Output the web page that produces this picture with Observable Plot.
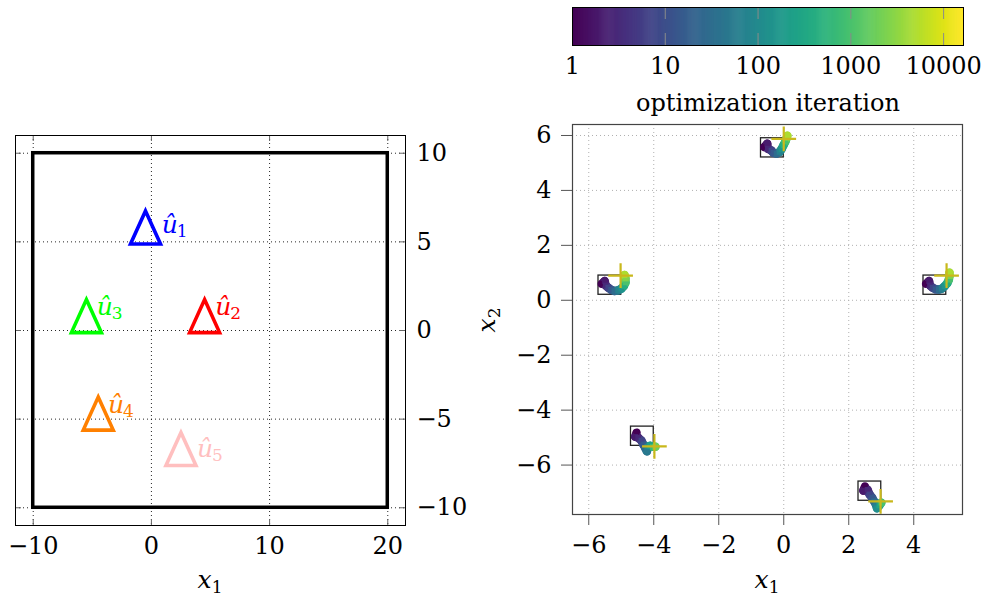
<!DOCTYPE html>
<html><head><meta charset="utf-8">
<script src="https://cdn.jsdelivr.net/npm/d3@7"></script>
<script src="https://cdn.jsdelivr.net/npm/@observablehq/plot@0.6"></script>
<style>
html,body{margin:0;padding:0;background:#fff;}
#chart{position:relative;width:984px;height:597px;overflow:hidden;}
#chart svg{position:absolute;}
#chart svg text{font-family:"DejaVu Serif","Liberation Serif",serif !important;}
</style></head><body><div id="chart"></div>
<script>
// ---------- left panel data ----------
const leftXTicks = [-10, 0, 10, 20];
const leftYTicks = [-10, -5, 0, 5, 10];
const regionX = [-10, 20];
const regionY = [-10, 10];
const uNames = ["1", "2", "3", "4", "5"];
const uX = [-0.5, 4.5, -5.5, -4.5, 2.5];
const uY = [5.5, 0.5, 0.5, -5.0, -7.0];
const uColors = ["#0000ff", "#ff0000", "#00ff00", "#ff8000", "#ffbfbf"];

// ---------- right panel data ----------
const rightXTicks = [-6, -4, -2, 0, 2, 4];
const rightYTicks = [-6, -4, -2, 0, 2, 4, 6];
const boxX1 = [-0.7, 4.3, -5.7, -4.7, 2.3];
const boxX2 = [0.0, 5.0, -5.0, -4.0, 3.0];
const boxY1 = [5.2, 0.2, 0.2, -5.3, -7.3];
const boxY2 = [5.9, 0.9, 0.9, -4.6, -6.6];
const finalX = [0.0, 5.01, -5.02, -3.98, 2.98];
const finalY = [5.88, 0.90, 0.90, -5.32, -7.32];
// trajectories: [x1, x2, iteration]
const traj1 = [[-0.60,5.58,1],[-0.51,5.70,2],[-0.49,5.52,3],[-0.38,5.45,7],[-0.32,5.37,14],[-0.22,5.34,30],[-0.13,5.40,70],[-0.07,5.50,150],[-0.01,5.64,400],[0.05,5.78,1000],[0.09,5.91,2500],[0.11,5.99,5000]];
const traj2 = [[4.38,0.60,1],[4.47,0.70,2],[4.50,0.54,3],[4.58,0.46,7],[4.67,0.40,14],[4.77,0.39,30],[4.86,0.42,70],[4.95,0.51,150],[5.03,0.62,400],[5.08,0.75,1000],[5.10,0.88,2500],[5.10,1.00,5000]];
const traj3 = [[-5.60,0.60,1],[-5.51,0.70,2],[-5.48,0.54,3],[-5.40,0.46,7],[-5.31,0.38,14],[-5.21,0.34,30],[-5.10,0.36,70],[-5.00,0.42,150],[-4.92,0.52,400],[-4.87,0.65,1000],[-4.87,0.79,2500],[-4.90,0.92,5000]];
const traj4 = [[-4.53,-4.82,1],[-4.57,-4.97,2],[-4.48,-5.00,3],[-4.38,-5.11,7],[-4.32,-5.25,14],[-4.26,-5.38,30],[-4.21,-5.50,50],[-4.20,-5.33,100],[-4.11,-5.30,250],[-4.03,-5.33,700],[-3.95,-5.33,2000]];
const traj5 = [[2.50,-6.78,1],[2.45,-6.93,2],[2.58,-6.90,3],[2.64,-7.07,7],[2.72,-7.19,14],[2.78,-7.32,30],[2.84,-7.45,60],[2.87,-7.57,120],[2.94,-7.47,300],[3.00,-7.37,1000]];

// ---------- colorbar ----------
const colorTicks = [1, 10, 100, 1000, 10000];
const iterMax = 16384;

// ---------- styling ----------
const FONT = "DejaVu Serif";
const FS = 24;
const labelDx = [16.3, 10.6, 10.3, 9.7, 16];
const labelDy = [0, -6.5, -6.5, -6, 2.5];
const crossColor = "#c9b81c";
const fmt = d => (d < 0 ? "\u2212" : "") + Math.abs(d);
const baseStyle = {fontFamily: FONT, fontSize: FS + "px", color: "#000", background: "none", overflow: "visible"};

const triangle = {
  draw(ctx, size) {
    const r = Math.sqrt(size / Math.PI);
    ctx.moveTo(0, -1.47 * r);
    ctx.lineTo(r, 0.73 * r);
    ctx.lineTo(-r, 0.73 * r);
    ctx.closePath();
  }
};

const idx = d3.range(uNames.length);
const chart = document.getElementById("chart");

// ===== left panel =====
const left = Plot.plot({
  width: 490, height: 597,
  marginLeft: 15, marginRight: 85, marginTop: 135, marginBottom: 72,
  style: baseStyle,
  x: {domain: [-11.5, 21.5]},
  y: {domain: [-11, 11]},
  color: {type: "identity"},
  marks: [
    Plot.gridX(leftXTicks, {stroke: "#000", strokeOpacity: 0.85, strokeDasharray: "1,3"}),
    Plot.gridY(leftYTicks, {stroke: "#000", strokeOpacity: 0.85, strokeDasharray: "1,3"}),
    Plot.tickX(leftXTicks, {x: d => d, stroke: "#666", insetBottom: 384}),
    Plot.tickX(leftXTicks, {x: d => d, stroke: "#666", insetTop: 384}),
    Plot.tickY(leftYTicks, {y: d => d, stroke: "#666", insetRight: 384}),
    Plot.tickY(leftYTicks, {y: d => d, stroke: "#666", insetLeft: 384}),
    Plot.axisX(leftXTicks, {tickSize: 0, tickPadding: 11, tickFormat: fmt, label: null}),
    Plot.axisY(leftYTicks, {anchor: "right", tickSize: 0, tickPadding: 11, tickFormat: fmt, label: null}),
    Plot.rect([0], {x1: () => regionX[0], x2: () => regionX[1], y1: () => regionY[0], y2: () => regionY[1], fill: "none", stroke: "#000", strokeWidth: 3.5}),
    Plot.frame({stroke: "#000", strokeWidth: 1}),
    Plot.dot(idx, {x: i => uX[i], y: i => uY[i], stroke: i => uColors[i], symbol: triangle, r: 15, strokeWidth: 3.6, fill: "none", strokeLinejoin: "miter"}),
    ...idx.map(i => Plot.text([i], {x: j => uX[j], y: j => uY[j], text: () => "\u00fb", fill: () => uColors[i], fontStyle: "italic", fontSize: 25, textAnchor: "start", lineAnchor: "bottom", dx: labelDx[i], dy: labelDy[i]})),
    ...idx.map(i => Plot.text([i], {x: j => uX[j], y: j => uY[j], text: j => uNames[j], fill: () => uColors[i], fontSize: 17, textAnchor: "start", lineAnchor: "bottom", dx: labelDx[i] + 15, dy: labelDy[i] + 4}))
  ]
});
left.style.left = "0px"; left.style.top = "0px";
chart.appendChild(left);

// ===== right panel =====
const trajs = [traj1, traj2, traj3, traj4, traj5];
const trajAll = trajs.flatMap((t, k) => t.map(p => ({x: p[0], y: p[1], it: p[2], k})));
const right = Plot.plot({
  width: 514, height: 597,
  marginLeft: 102, marginRight: 22, marginTop: 124, marginBottom: 83,
  style: baseStyle,
  x: {domain: [-6.5, 5.5]},
  y: {domain: [-7.8, 6.4]},
  color: {type: "log", scheme: "viridis", domain: [1, iterMax]},
  marks: [
    Plot.gridX(rightXTicks, {stroke: "#b0b0b0", strokeOpacity: 1, strokeDasharray: "1,3"}),
    Plot.gridY(rightYTicks, {stroke: "#b0b0b0", strokeOpacity: 1, strokeDasharray: "1,3"}),
    Plot.axisX(rightXTicks, {tickSize: 11, tickPadding: 10, stroke: "#555", tickFormat: fmt, label: null}),
    Plot.axisY(rightYTicks, {tickSize: 11, tickPadding: 10, stroke: "#555", tickFormat: fmt, label: null}),
    Plot.rect(idx, {x1: i => boxX1[i], x2: i => boxX2[i], y1: i => boxY1[i], y2: i => boxY2[i], fill: "none", stroke: "#222", strokeWidth: 1.3}),
    Plot.line(trajAll, {x: "x", y: "y", z: "k", stroke: "it", strokeWidth: 8.5, strokeLinecap: "round", strokeLinejoin: "round", curve: "linear"}),
    Plot.dot(trajAll, {x: "x", y: "y", fill: "it", r: 3.2, symbol: "square"}),
    Plot.dot(idx, {x: i => finalX[i], y: i => finalY[i], symbol: "plus", stroke: crossColor, r: 8, strokeWidth: 2.2}),
    Plot.frame({stroke: "#444", strokeWidth: 1.2})
  ]
});
right.style.left = "470px"; right.style.top = "0px";
chart.appendChild(right);

// ===== colorbar =====
const nCells = 400;
const cbCells = d3.range(nCells).map(i => [Math.pow(iterMax, i / nCells), Math.pow(iterMax, (i + 1) / nCells)]);
const cbar = Plot.plot({
  width: 444, height: 120,
  marginLeft: 32, marginRight: 21, marginTop: 7, marginBottom: 75,
  style: baseStyle,
  x: {type: "log", domain: [1, iterMax]},
  y: {axis: null},
  color: {type: "log", scheme: "viridis", domain: [1, iterMax]},
  marks: [
    Plot.rect(cbCells, {x1: d => d[0], x2: d => d[1], fill: d => Math.sqrt(d[0] * d[1]), insetRight: -0.6}),
    Plot.tickX(colorTicks.slice(1), {x: d => d, stroke: "#8a8a8a", insetBottom: 26}),
    Plot.tickX(colorTicks.slice(1), {x: d => d, stroke: "#8a8a8a", insetTop: 26}),
    Plot.frame({stroke: "#000", strokeWidth: 1}),
    Plot.axisX(colorTicks, {tickSize: 0, tickPadding: 11, tickFormat: d => String(d), label: null}),
    Plot.text(["optimization iteration"], {frameAnchor: "bottom", text: d => d, lineAnchor: "bottom", dy: 65, fontSize: FS})
  ]
});
cbar.style.left = "540px"; cbar.style.top = "0px";
chart.appendChild(cbar);

// ===== math axis labels =====
function mathLabel(svg, x, y, sub, rot) {
  const t = d3.select(svg).append("text")
    .attr("transform", `translate(${x},${y})` + (rot ? " rotate(-90)" : ""))
    .attr("text-anchor", "middle").attr("font-size", FS + 1).attr("fill", "#000");
  t.append("tspan").attr("font-style", "italic").text("x");
  t.append("tspan").attr("font-size", 17).attr("dy", 5).text(sub);
}
mathLabel(left, 210, 588, "1", false);
mathLabel(right, 297, 588, "1", false);
mathLabel(right, 25, 320, "2", true);
</script></body></html>
